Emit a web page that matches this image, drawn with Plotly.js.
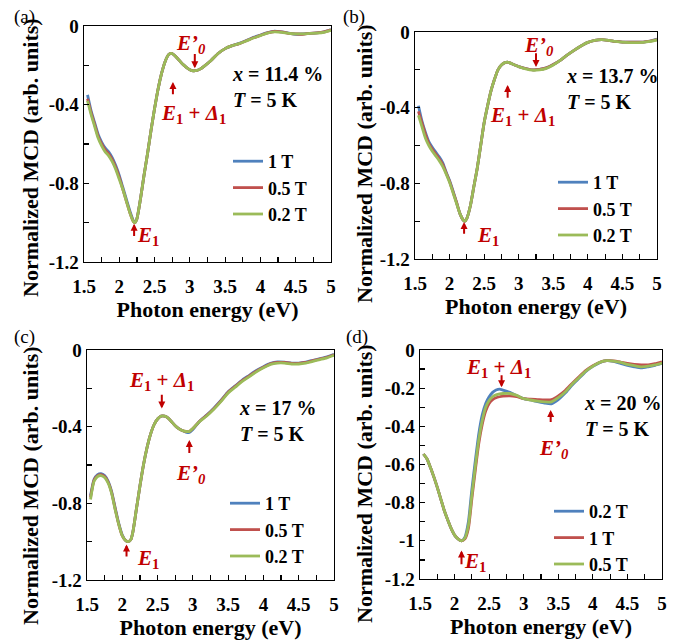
<!DOCTYPE html>
<html>
<head>
<meta charset="utf-8">
<script src="https://cdn.plot.ly/plotly-3.0.1.min.js"></script>
<style>html,body{margin:0;padding:0;background:#fff}#chart{width:682px;height:642px}</style>
</head>
<body>
<div id="chart"></div>
<script>
// ---------------- DATA ----------------
// Panel (a) x = 11.4 %
const energyA = [1.55,1.60,1.65,1.70,1.75,1.80,1.85,1.90,1.95,2.00,2.05,2.10,2.15,2.20,2.22,2.25,2.30,2.35,2.40,2.45,2.50,2.55,2.60,2.65,2.70,2.75,2.80,2.85,2.90,2.95,3.00,3.05,3.10,3.15,3.20,3.30,3.40,3.50,3.60,3.70,3.80,3.90,4.00,4.10,4.20,4.30,4.40,4.50,4.60,4.70,4.80,4.90,5.00];
const mcdA_1T  = [-0.35,-0.43,-0.49,-0.55,-0.59,-0.62,-0.64,-0.67,-0.71,-0.76,-0.82,-0.88,-0.94,-0.99,-1.00,-0.98,-0.88,-0.76,-0.65,-0.53,-0.42,-0.32,-0.24,-0.18,-0.145,-0.14,-0.155,-0.175,-0.195,-0.21,-0.222,-0.228,-0.226,-0.218,-0.205,-0.175,-0.14,-0.115,-0.10,-0.088,-0.074,-0.058,-0.046,-0.034,-0.026,-0.03,-0.036,-0.042,-0.04,-0.038,-0.035,-0.03,-0.018];
const mcdA_05T = [-0.37,-0.44,-0.50,-0.56,-0.60,-0.63,-0.65,-0.68,-0.72,-0.77,-0.83,-0.89,-0.95,-0.995,-1.00,-0.98,-0.88,-0.76,-0.65,-0.53,-0.42,-0.32,-0.24,-0.18,-0.145,-0.14,-0.155,-0.175,-0.195,-0.21,-0.222,-0.228,-0.226,-0.218,-0.205,-0.175,-0.14,-0.115,-0.10,-0.09,-0.075,-0.06,-0.048,-0.035,-0.028,-0.03,-0.038,-0.04,-0.042,-0.037,-0.035,-0.03,-0.02];
const mcdA_02T = [-0.38,-0.45,-0.51,-0.57,-0.61,-0.64,-0.66,-0.69,-0.73,-0.78,-0.83,-0.89,-0.95,-0.995,-1.00,-0.98,-0.88,-0.76,-0.65,-0.53,-0.42,-0.32,-0.24,-0.18,-0.145,-0.14,-0.155,-0.175,-0.195,-0.21,-0.222,-0.228,-0.226,-0.218,-0.205,-0.175,-0.14,-0.115,-0.10,-0.09,-0.076,-0.061,-0.049,-0.036,-0.03,-0.032,-0.037,-0.04,-0.04,-0.038,-0.036,-0.032,-0.022];

// Panel (b) x = 13.7 %
const energyB = [1.55,1.60,1.65,1.70,1.75,1.80,1.85,1.90,1.95,2.00,2.05,2.10,2.15,2.20,2.22,2.25,2.30,2.35,2.40,2.45,2.50,2.55,2.60,2.65,2.70,2.75,2.80,2.85,2.90,2.95,3.00,3.10,3.20,3.30,3.40,3.50,3.60,3.70,3.80,3.90,4.00,4.10,4.20,4.30,4.40,4.50,4.60,4.70,4.80,4.90,5.00];
const mcdB_1T  = [-0.39,-0.47,-0.53,-0.58,-0.61,-0.635,-0.66,-0.69,-0.74,-0.785,-0.84,-0.90,-0.96,-0.995,-1.00,-0.985,-0.92,-0.82,-0.72,-0.60,-0.48,-0.39,-0.31,-0.25,-0.20,-0.175,-0.162,-0.16,-0.168,-0.176,-0.183,-0.193,-0.20,-0.198,-0.19,-0.172,-0.15,-0.122,-0.097,-0.074,-0.055,-0.044,-0.04,-0.044,-0.05,-0.053,-0.054,-0.054,-0.053,-0.048,-0.038];
const mcdB_05T = [-0.42,-0.48,-0.54,-0.59,-0.62,-0.645,-0.67,-0.70,-0.745,-0.79,-0.845,-0.90,-0.96,-0.995,-1.00,-0.985,-0.92,-0.82,-0.72,-0.60,-0.48,-0.39,-0.31,-0.25,-0.20,-0.175,-0.162,-0.16,-0.168,-0.176,-0.183,-0.193,-0.20,-0.198,-0.19,-0.172,-0.15,-0.122,-0.097,-0.074,-0.055,-0.044,-0.04,-0.044,-0.05,-0.053,-0.054,-0.054,-0.053,-0.048,-0.04];
const mcdB_02T = [-0.44,-0.50,-0.56,-0.60,-0.63,-0.655,-0.68,-0.71,-0.75,-0.795,-0.85,-0.905,-0.96,-0.995,-1.00,-0.985,-0.92,-0.82,-0.72,-0.60,-0.48,-0.39,-0.31,-0.25,-0.20,-0.175,-0.162,-0.16,-0.168,-0.176,-0.183,-0.195,-0.202,-0.20,-0.192,-0.174,-0.15,-0.122,-0.097,-0.074,-0.055,-0.044,-0.04,-0.044,-0.05,-0.054,-0.056,-0.056,-0.055,-0.05,-0.042];

// Panel (c) x = 17 %
const energyC = [1.55,1.60,1.65,1.70,1.75,1.80,1.85,1.90,1.95,2.00,2.05,2.08,2.12,2.15,2.20,2.25,2.30,2.35,2.40,2.45,2.50,2.55,2.60,2.65,2.70,2.75,2.80,2.85,2.90,2.95,3.00,3.05,3.10,3.20,3.30,3.40,3.50,3.60,3.70,3.80,3.90,4.00,4.10,4.20,4.30,4.40,4.50,4.60,4.70,4.80,4.90,5.00];
const mcdC_1T  = [-0.76,-0.675,-0.65,-0.645,-0.655,-0.685,-0.74,-0.825,-0.905,-0.965,-0.995,-1.00,-0.99,-0.95,-0.83,-0.71,-0.60,-0.51,-0.44,-0.39,-0.36,-0.345,-0.345,-0.355,-0.375,-0.395,-0.41,-0.42,-0.428,-0.43,-0.415,-0.392,-0.37,-0.338,-0.302,-0.262,-0.218,-0.187,-0.157,-0.132,-0.107,-0.087,-0.07,-0.062,-0.063,-0.068,-0.068,-0.063,-0.054,-0.045,-0.036,-0.022];
const mcdC_05T = [-0.77,-0.68,-0.655,-0.65,-0.66,-0.69,-0.745,-0.83,-0.91,-0.97,-0.995,-1.00,-0.99,-0.95,-0.83,-0.71,-0.60,-0.51,-0.44,-0.39,-0.36,-0.345,-0.345,-0.355,-0.375,-0.395,-0.41,-0.42,-0.425,-0.425,-0.41,-0.39,-0.37,-0.34,-0.305,-0.265,-0.22,-0.19,-0.16,-0.135,-0.11,-0.09,-0.072,-0.065,-0.065,-0.07,-0.07,-0.065,-0.056,-0.047,-0.038,-0.025];
const mcdC_02T = [-0.78,-0.685,-0.66,-0.655,-0.665,-0.695,-0.75,-0.835,-0.91,-0.97,-0.995,-1.00,-0.99,-0.95,-0.83,-0.71,-0.60,-0.51,-0.44,-0.39,-0.36,-0.345,-0.345,-0.355,-0.375,-0.395,-0.41,-0.42,-0.425,-0.425,-0.41,-0.39,-0.372,-0.343,-0.308,-0.268,-0.224,-0.194,-0.164,-0.139,-0.114,-0.093,-0.075,-0.068,-0.068,-0.073,-0.073,-0.068,-0.059,-0.05,-0.041,-0.028];

// Panel (d) x = 20 %
const energyD = [1.55,1.60,1.65,1.70,1.75,1.80,1.85,1.90,1.95,2.00,2.05,2.10,2.15,2.20,2.25,2.30,2.35,2.40,2.45,2.50,2.55,2.60,2.65,2.70,2.80,2.90,3.00,3.10,3.20,3.30,3.40,3.50,3.60,3.70,3.80,3.90,4.00,4.10,4.20,4.30,4.40,4.50,4.60,4.70,4.80,4.90,5.00];
const mcdD_02T = [-0.545,-0.57,-0.615,-0.665,-0.72,-0.78,-0.84,-0.89,-0.935,-0.97,-0.99,-1.00,-0.98,-0.90,-0.73,-0.58,-0.44,-0.34,-0.28,-0.245,-0.222,-0.21,-0.205,-0.21,-0.222,-0.24,-0.255,-0.262,-0.27,-0.278,-0.282,-0.26,-0.226,-0.184,-0.148,-0.112,-0.086,-0.066,-0.056,-0.06,-0.07,-0.08,-0.088,-0.094,-0.088,-0.08,-0.07];
const mcdD_1T  = [-0.545,-0.57,-0.615,-0.665,-0.72,-0.78,-0.84,-0.89,-0.935,-0.97,-0.99,-1.00,-0.99,-0.935,-0.78,-0.63,-0.49,-0.39,-0.32,-0.28,-0.26,-0.25,-0.245,-0.242,-0.24,-0.245,-0.255,-0.258,-0.26,-0.262,-0.26,-0.24,-0.212,-0.175,-0.14,-0.107,-0.082,-0.064,-0.056,-0.057,-0.063,-0.07,-0.075,-0.078,-0.078,-0.072,-0.062];
const mcdD_05T = [-0.545,-0.57,-0.615,-0.665,-0.72,-0.78,-0.84,-0.89,-0.935,-0.97,-0.99,-1.00,-0.985,-0.92,-0.76,-0.61,-0.47,-0.37,-0.30,-0.265,-0.245,-0.235,-0.23,-0.228,-0.228,-0.238,-0.255,-0.262,-0.268,-0.272,-0.272,-0.25,-0.22,-0.18,-0.145,-0.11,-0.085,-0.065,-0.056,-0.058,-0.065,-0.075,-0.082,-0.088,-0.085,-0.078,-0.068];

// Series names (legend labels)
const namesABC = ['1 T','0.5 T','0.2 T'];
const namesD   = ['0.2 T','1 T','0.5 T'];

// Tick labels (major) and unlabeled minor tick positions
const xTickVals = [1.5,2,2.5,3,3.5,4,4.5,5];
const xTickText = ['1.5','2','2.5','3','3.5','4','4.5','5'];
const xMinorVals = [1.75,2.25,2.75,3.25,3.75,4.25,4.75];
const yTickVals = [0,-0.4,-0.8,-1.2];
const yTickText = ['0','-0.4','-0.8','-1.2'];
const yMinorVals = [-0.2,-0.6,-1.0];
const yTickValsD = [0,-0.2,-0.4,-0.6,-0.8,-1.0,-1.2];
const yTickTextD = ['0','-0.2','-0.4','-0.6','-0.8','-1','-1.2'];
const yMinorValsD = [-0.1,-0.3,-0.5,-0.7,-0.9,-1.1];

// Titles and descriptions
const xTitle = 'Photon energy (eV)';
const yTitle = 'Normalized MCD (arb. units)';
const sampleLabels = ['<i>x</i> = 11.4 %<br><i>T</i> = 5 K','<i>x</i> = 13.7 %<br><i>T</i> = 5 K','<i>x</i> = 17 %<br><i>T</i> = 5 K','<i>x</i> = 20 %<br><i>T</i> = 5 K'];
const panelLabels = ['(a)','(b)','(c)','(d)'];

// ---------------- STYLE ----------------
const FONT = 'Liberation Serif';
const BLUE = '#4F81BD', RED = '#C0504D', GREEN = '#9BBB59', ARROW = '#C00000';
const W = 682, H = 642;

const traces = [];
function addPanel(xs, ys, names, colors, ax, legendId) {
  ys.forEach((y, i) => {
    traces.push({
      x: xs, y: y, name: names[i], type: 'scatter', mode: 'lines',
      line: {color: colors[i], width: 2.8, shape: 'spline', smoothing: 0.6},
      xaxis: 'x' + ax, yaxis: 'y' + ax, legend: legendId
    });
  });
}
addPanel(energyA, [mcdA_1T, mcdA_05T, mcdA_02T], namesABC, [BLUE, RED, GREEN], '', 'legend');
addPanel(energyB, [mcdB_1T, mcdB_05T, mcdB_02T], namesABC, [BLUE, RED, GREEN], '2', 'legend2');
addPanel(energyC, [mcdC_1T, mcdC_05T, mcdC_02T], namesABC, [BLUE, RED, GREEN], '3', 'legend3');
addPanel(energyD, [mcdD_02T, mcdD_1T, mcdD_05T], namesD, [BLUE, RED, GREEN], '4', 'legend4');

function dx(l, r) { return [l / W, r / W]; }
function dy(t, b) { return [1 - b / H, 1 - t / H]; }

function minorTicks(vals) {
  return {tickmode: 'array', tickvals: vals, ticks: 'inside', ticklen: 5, tickwidth: 1.2, tickcolor: '#000', showgrid: false};
}
function xAxis(domain, anchor) {
  return {
    domain: domain, anchor: anchor, range: [1.5, 5],
    tickmode: 'array', tickvals: xTickVals, ticktext: xTickText,
    ticks: 'inside', ticklen: 5, tickwidth: 1.2, tickcolor: '#000',
    minor: minorTicks(xMinorVals),
    showline: true, linecolor: '#000', linewidth: 1.4, mirror: true,
    showgrid: false, zeroline: false, ticklabelstandoff: 7,
    tickfont: {family: FONT, size: 19, color: '#000', weight: 'bold'},
    title: {text: xTitle, font: {family: FONT, size: 22, color: '#000', weight: 'bold'}, standoff: 0}
  };
}
function yAxis(domain, anchor, vals, text, minorVals) {
  return {
    domain: domain, anchor: anchor, range: [-1.2, 0],
    tickmode: 'array', tickvals: vals, ticktext: text,
    ticks: 'inside', ticklen: 5, tickwidth: 1.2, tickcolor: '#000',
    minor: minorTicks(minorVals),
    showline: true, linecolor: '#000', linewidth: 1.4, mirror: true,
    showgrid: false, zeroline: false,
    tickfont: {family: FONT, size: 19, color: '#000', weight: 'bold'}
  };
}

const legendFont = {family: FONT, size: 18, color: '#000', weight: 'bold'};
function legendAt(px, py) {
  return {x: px / W, y: 1 - py / H, xanchor: 'left', yanchor: 'top',
    bgcolor: 'rgba(0,0,0,0)', borderwidth: 0, font: legendFont, tracegroupgap: 0};
}

const annotations = [];
const redFont = {family: FONT, size: 21, color: ARROW, weight: 'bold'};
function arrow(ax, x, yTail, yHead) {
  annotations.push({xref: 'x' + ax, yref: 'y' + ax, x: x, y: yHead, axref: 'x' + ax, ayref: 'y' + ax,
    ax: x, ay: yTail, text: '', showarrow: true, arrowhead: 2, arrowsize: 0.7, arrowwidth: 2,
    arrowcolor: ARROW, standoff: 0, startstandoff: 0});
}
function label(ax, x, y, text, anchor) {
  annotations.push({xref: 'x' + ax, yref: 'y' + ax, x: x, y: y, text: text, showarrow: false,
    xanchor: anchor || 'center', yanchor: 'middle', font: redFont});
}
const E1 = '<i>E</i><sub>1</sub>';
const E1D1 = '<i>E</i><sub>1</sub> + <i>Δ</i><sub>1</sub>';
const E0p = '<i>E’<sub>0</sub></i>';

// (a)
arrow('', 3.07, -0.135, -0.215); label('', 3.02, -0.09, E0p);
arrow('', 2.76, -0.355, -0.285); label('', 3.05, -0.445, E1D1);
arrow('', 2.21, -1.075, -1.005); label('', 2.40, -1.07, E1);
// (b)
arrow('2', 3.25, -0.105, -0.185); label('2', 3.30, -0.075, E0p);
arrow('2', 2.84, -0.355, -0.28); label('2', 3.06, -0.445, E1D1);
arrow('2', 2.21, -1.075, -1.005); label('2', 2.55, -1.08, E1);
// (c)
arrow('3', 2.56, -0.225, -0.305); label('3', 2.555, -0.16, E1D1);
arrow('3', 2.95, -0.545, -0.47); label('3', 2.98, -0.645, E0p);
arrow('3', 2.06, -1.085, -1.015); label('3', 2.36, -1.09, E1);
// (d)
arrow('4', 2.68, -0.125, -0.195); label('4', 2.64, -0.095, E1D1);
arrow('4', 3.39, -0.385, -0.315); label('4', 3.44, -0.52, E0p);
arrow('4', 2.10, -1.13, -1.05); label('4', 2.29, -1.11, E1);

// sample text blocks
const sampleX = [3.57, 3.66, 3.62, 3.85];
const sampleY = [-0.31, -0.30, -0.373, -0.344];
['', '2', '3', '4'].forEach((ax, i) => {
  annotations.push({xref: 'x' + ax, yref: 'y' + ax, x: sampleX[i], y: sampleY[i], text: sampleLabels[i],
    showarrow: false, xanchor: 'left', yanchor: 'middle', align: 'left',
    font: {family: FONT, size: 20, color: '#000', weight: 'bold'}});
});
// y-axis titles (placed as in the reference, slightly below the axis centre)
const yTitlePos = [[30, 158], [364, 164], [30, 486], [364, 484]];
yTitlePos.forEach(p => {
  annotations.push({xref: 'paper', yref: 'paper', x: p[0] / W, y: 1 - p[1] / H, xanchor: 'center', yanchor: 'middle',
    text: yTitle, textangle: -90, showarrow: false,
    font: {family: FONT, size: 22, color: '#000', weight: 'bold'}});
});
// panel letters
const panelPos = [[12, 4], [341, 4], [12, 324], [344, 324]];
panelLabels.forEach((t, i) => {
  annotations.push({xref: 'paper', yref: 'paper', x: panelPos[i][0] / W, y: 1 - panelPos[i][1] / H,
    xanchor: 'left', yanchor: 'top', text: t, showarrow: false,
    font: {family: FONT, size: 19, color: '#000'}});
});

const layout = {
  width: W, height: H, margin: {l: 0, r: 0, t: 0, b: 0},
  paper_bgcolor: '#fff', plot_bgcolor: '#fff', showlegend: true,
  xaxis: xAxis(dx(84, 331), 'y'),
  yaxis: yAxis(dy(26, 262), 'x', yTickVals, yTickText, yMinorVals),
  xaxis2: xAxis(dx(415, 657), 'y2'),
  yaxis2: yAxis(dy(32, 259), 'x2', yTickVals, yTickText, yMinorVals),
  xaxis3: xAxis(dx(87, 334), 'y3'),
  yaxis3: yAxis(dy(350, 580), 'x3', yTickVals, yTickText, yMinorVals),
  xaxis4: xAxis(dx(420, 662), 'y4'),
  yaxis4: yAxis(dy(350, 579), 'x4', yTickValsD, yTickTextD, yMinorValsD),
  legend: legendAt(228, 143),
  legend2: legendAt(553, 164),
  legend3: legendAt(225, 485),
  legend4: legendAt(549, 493),
  annotations: annotations
};

Plotly.newPlot('chart', traces, layout, {staticPlot: true, displayModeBar: false});
</script>
</body>
</html>
